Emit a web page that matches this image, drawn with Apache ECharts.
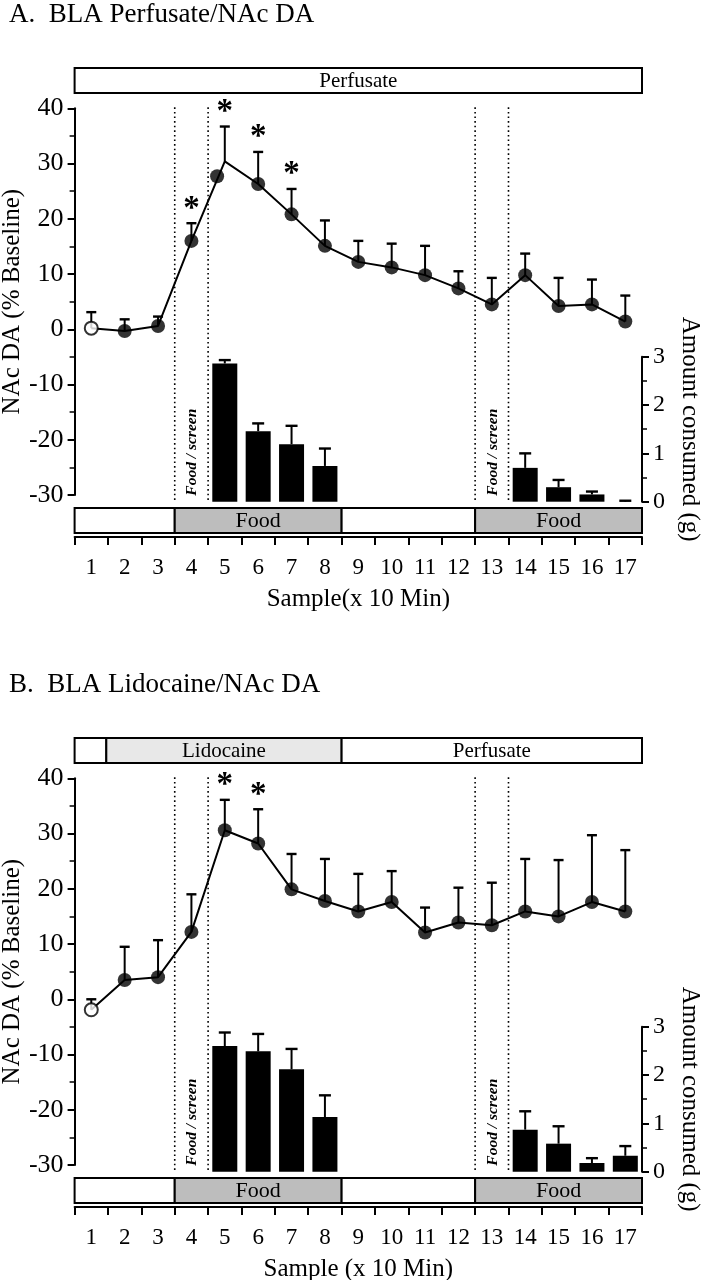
<!DOCTYPE html>
<html><head><meta charset="utf-8">
<script src="https://cdn.jsdelivr.net/npm/echarts@6.0.0/dist/echarts.min.js"></script>
<style>html,body{margin:0;padding:0;background:#fff}#c{width:701px;height:1280px}</style>
</head><body><div id="c"></div>
<script>
// ---------- data ----------
const samples = [1,2,3,4,5,6,7,8,9,10,11,12,13,14,15,16,17];
const xTickLabels = ['1','2','3','4','5','6','7','8','9','10','11','12','13','14','15','16','17'];
const daAxisMin = -30, daAxisMax = 40, daAxisStep = 10;
const foodAxisMin = 0, foodAxisMax = 3, foodAxisStep = 1;

// Panel A
const titleA = 'A.  BLA Perfusate/NAc DA';
const xNameA = 'Sample(x 10 Min)';
const daMeanA = [0.2, -0.3, 0.6, 16.0, 30.4, 26.3, 20.8, 15.1, 12.2, 11.2, 9.8, 7.4, 4.5, 9.8, 4.2, 4.5, 1.4];
const daSemA  = [2.9, 2.1, 1.7, 3.2, 6.3, 5.8, 4.6, 4.6, 3.8, 4.3, 5.3, 3.1, 4.8, 3.9, 5.1, 4.5, 4.7];
const markerPosA = [1, 2, 3, 4, 4.77, 6, 7, 8, 9, 10, 11, 12, 13, 14, 15, 16, 17];
const markerValA = [0.2, -0.3, 0.6, 16.0, 27.7, 26.3, 20.8, 15.1, 12.2, 11.2, 9.8, 7.4, 4.5, 9.8, 4.2, 4.5, 1.4];
const sigA = [4, 5, 6, 7];
const foodSamples = [5, 6, 7, 8, 14, 15, 16, 17];
const foodA    = [2.86, 1.46, 1.19, 0.74, 0.70, 0.30, 0.15, 0.00];
const foodSemA = [0.07, 0.16, 0.38, 0.36, 0.30, 0.15, 0.06, 0.02];
const treatmentA = [[0.5, 17.5, 'Perfusate']];

// Panel B
const titleB = 'B.  BLA Lidocaine/NAc DA';
const xNameB = 'Sample (x 10 Min)';
const daMeanB = [-1.9, 3.5, 4.0, 12.2, 30.6, 28.2, 19.9, 17.8, 15.9, 17.6, 12.1, 13.9, 13.4, 15.9, 15.0, 17.6, 15.9];
const daSemB  = [1.9, 6.0, 6.7, 6.8, 5.5, 6.2, 6.4, 7.6, 6.8, 5.6, 4.5, 6.3, 7.7, 9.5, 10.2, 12.1, 11.1];
const markerPosB = [1,2,3,4,5,6,7,8,9,10,11,12,13,14,15,16,17];
const markerValB = [-1.9, 3.5, 4.0, 12.2, 30.6, 28.2, 19.9, 17.8, 15.9, 17.6, 12.1, 13.9, 13.4, 15.9, 15.0, 17.6, 15.9];
const sigB = [5, 6];
const foodB    = [2.60, 2.49, 2.12, 1.13, 0.87, 0.58, 0.18, 0.33];
const foodSemB = [0.28, 0.36, 0.42, 0.45, 0.38, 0.36, 0.10, 0.20];
const treatmentB = [[0.5, 1.45, ''], [1.45, 8.5, 'Lidocaine'], [8.5, 17.5, 'Perfusate']];

// shared
const foodPeriods = [[0.5, 3.5, ''], [3.5, 8.5, 'Food'], [8.5, 12.5, ''], [12.5, 17.5, 'Food']];
const screenChanges = [3.5, 4.5, 12.5, 13.5];
const screenLabelAt = [4, 13];
const screenLabel = 'Food / screen';
const openMarkerIndex = 0;
const yNameDA = 'NAc DA (% Baseline)';
const yNameFood = 'Amount consumed (g)';

// ---------- chart ----------
const FONT = '"Liberation Serif", "Times New Roman", serif';
const GL = 74.6, GR = 701 - 642;
const fills = {'Food': '#bdbdbd', 'Lidocaine': '#e8e8e8', '': '#ffffff', 'Perfusate': '#ffffff'};

const option = {
  animation: false, backgroundColor: '#ffffff',
  title: [], grid: [], xAxis: [], yAxis: [], series: []
};

function hiddenX(gi) {
  return {type: 'value', gridIndex: gi, min: 0.5, max: 17.5, show: false};
}
function hiddenY(gi, mn, mx) {
  return {type: 'value', gridIndex: gi, min: mn, max: mx, show: false};
}

function boxSeries(xi, yi, boxes, fontSize) {
  return {
    type: 'custom', xAxisIndex: xi, yAxisIndex: yi, clip: false, z: 3,
    data: boxes.map(b => [b[0], b[1]]),
    renderItem: function (params, api) {
      const b = boxes[params.dataIndex];
      const p0 = api.coord([api.value(0), 1]);
      const p1 = api.coord([api.value(1), 0]);
      return {type: 'group', children: [
        {type: 'rect', shape: {x: p0[0], y: p0[1], width: p1[0] - p0[0], height: p1[1] - p0[1]},
         style: {fill: fills[b[2]], stroke: '#000', lineWidth: 2}},
        {type: 'text', x: (p0[0] + p1[0]) / 2, y: (p0[1] + p1[1]) / 2 + 1,
         style: {text: b[2], align: 'center', verticalAlign: 'middle', fill: '#000',
                 font: fontSize + 'px ' + FONT}}
      ]};
    }
  };
}

function errSeries(xi, yi, xs, means, sems, cap) {
  return {
    type: 'custom', xAxisIndex: xi, yAxisIndex: yi, clip: false, z: 4,
    data: xs.map((x, i) => [x, means[i], means[i] + sems[i]]),
    renderItem: function (params, api) {
      const pb = api.coord([api.value(0), api.value(1)]);
      const pt = api.coord([api.value(0), api.value(2)]);
      return {type: 'group', children: [
        {type: 'line', shape: {x1: pb[0], y1: pb[1], x2: pt[0], y2: pt[1]}, style: {stroke: '#000', lineWidth: 2}},
        {type: 'line', shape: {x1: pt[0] - cap, y1: pt[1], x2: pt[0] + cap, y2: pt[1]}, style: {stroke: '#000', lineWidth: 2.4}}
      ]};
    }
  };
}

function addPanel(p, off) {
  const g = option.grid.length, xi = option.xAxis.length, yi = option.yAxis.length;
  option.title.push({text: p.title, left: 4, top: off - 4,
    textStyle: {fontFamily: FONT, fontSize: 27, fontWeight: 'normal', color: '#000'}});
  option.grid.push({left: GL, right: GR, top: 68 + off, height: 25, outerBoundsMode: 'none'});
  option.grid.push({left: GL, right: GR, top: 108.3 + off, height: 386.7, outerBoundsMode: 'none'});
  option.grid.push({left: GL, right: GR, top: 356.7 + off, height: 145, outerBoundsMode: 'none'});
  option.grid.push({left: GL, right: GR, top: 508 + off, height: 25, outerBoundsMode: 'none'});

  option.xAxis.push(hiddenX(g), hiddenX(g + 1), hiddenX(g + 2), hiddenX(g + 3));
  option.xAxis.push({
    type: 'category', gridIndex: g + 3, data: xTickLabels, position: 'bottom', offset: 4,
    boundaryGap: true,
    axisLine: {show: true, lineStyle: {color: '#000', width: 2}},
    axisTick: {show: true, length: 8, alignWithLabel: false, interval: 0, lineStyle: {color: '#000', width: 2}},
    axisLabel: {interval: 0, color: '#000', fontFamily: FONT, fontSize: 23, margin: 19},
    splitLine: {show: false},
    name: p.xName, nameLocation: 'middle', nameGap: 50, nameMoveOverlap: false,
    nameTextStyle: {fontFamily: FONT, fontSize: 25, color: '#000'}
  });

  option.yAxis.push(hiddenY(g, 0, 1));
  option.yAxis.push({
    type: 'value', gridIndex: g + 1, position: 'left', min: daAxisMin, max: daAxisMax, interval: daAxisStep,
    axisLine: {show: true, lineStyle: {color: '#000', width: 2}},
    axisTick: {show: true, length: 7, lineStyle: {color: '#000', width: 2}},
    minorTick: {show: true, splitNumber: 2, length: 5, lineStyle: {color: '#000', width: 1.5}},
    splitLine: {show: false}, minorSplitLine: {show: false},
    axisLabel: {color: '#000', fontFamily: FONT, fontSize: 26, margin: 11},
    name: yNameDA, nameLocation: 'middle', nameGap: 50, nameMoveOverlap: false,
    nameTextStyle: {fontFamily: FONT, fontSize: 25, color: '#000'}
  });
  option.yAxis.push({
    type: 'value', gridIndex: g + 2, position: 'right', min: foodAxisMin, max: foodAxisMax, interval: foodAxisStep,
    axisLine: {show: true, lineStyle: {color: '#000', width: 2}},
    axisTick: {show: true, length: 7, lineStyle: {color: '#000', width: 2}},
    minorTick: {show: true, splitNumber: 2, length: 5, lineStyle: {color: '#000', width: 1.5}},
    splitLine: {show: false}, minorSplitLine: {show: false},
    axisLabel: {color: '#000', fontFamily: FONT, fontSize: 24, margin: 11},
    name: yNameFood, nameLocation: 'middle', nameGap: 35, nameRotate: -90, nameMoveOverlap: false,
    nameTextStyle: {fontFamily: FONT, fontSize: 25, color: '#000'}
  });
  option.yAxis.push(hiddenY(g + 3, 0, 1));

  // treatment boxes (top) and food boxes (bottom)
  option.series.push(boxSeries(xi, yi, p.treatment, 21));
  option.series.push(boxSeries(xi + 3, yi + 3, foodPeriods, 22));

  // dotted lines
  option.series.push({
    type: 'custom', xAxisIndex: xi + 1, yAxisIndex: yi + 1, clip: false, z: 1,
    data: screenChanges.map(s => [s, daAxisMax]),
    renderItem: function (params, api) {
      const t = api.coord([api.value(0), daAxisMax]);
      const b = api.coord([api.value(0), daAxisMin]);
      return {type: 'line', shape: {x1: t[0], y1: t[1] - 1, x2: b[0], y2: b[1] + 8},
              style: {stroke: '#000', lineWidth: 1.6, lineDash: [1.6, 3]}};
    }
  });

  // food / screen labels
  option.series.push({
    type: 'custom', xAxisIndex: xi + 2, yAxisIndex: yi + 2, clip: false, z: 5,
    data: screenLabelAt.map(s => [s, foodAxisMin]),
    renderItem: function (params, api) {
      const c = api.coord([api.value(0), foodAxisMin]);
      return {type: 'text', x: c[0] + 1, y: c[1] - 6, rotation: Math.PI / 2,
              style: {text: screenLabel, align: 'left', verticalAlign: 'middle', fill: '#000',
                      font: 'italic bold 15.5px ' + FONT}};
    }
  });

  // food bars
  option.series.push({
    type: 'bar', xAxisIndex: xi + 2, yAxisIndex: yi + 2, barWidth: 25, z: 3,
    itemStyle: {color: '#000'},
    data: foodSamples.map((s, i) => [s, p.food[i]])
  });
  option.series.push(errSeries(xi + 2, yi + 2, foodSamples, p.food, p.foodSem, 6));

  // DA line
  option.series.push({
    type: 'line', xAxisIndex: xi + 1, yAxisIndex: yi + 1, showSymbol: false, z: 4,
    lineStyle: {color: '#000', width: 2},
    data: samples.map((s, i) => [s, p.mean[i]])
  });
  option.series.push(errSeries(xi + 1, yi + 1, samples, p.mean, p.sem, 5));
  option.series.push({
    type: 'scatter', xAxisIndex: xi + 1, yAxisIndex: yi + 1, symbol: 'circle', symbolSize: 14, z: 6,
    itemStyle: {color: '#000'},
    data: p.markerPos.map((x, i) => i === openMarkerIndex
      ? {value: [x, p.markerVal[i]], itemStyle: {color: '#fff', borderColor: '#000', borderWidth: 2}, symbolSize: 13}
      : {value: [x, p.markerVal[i]]})
  });
  // significance stars
  option.series.push({
    type: 'custom', xAxisIndex: xi + 1, yAxisIndex: yi + 1, clip: false, z: 6,
    data: p.sig.map(s => [s, p.mean[s - 1] + p.sem[s - 1]]),
    renderItem: function (params, api) {
      const c = api.coord([api.value(0), api.value(1)]);
      return {type: 'text', x: c[0], y: c[1] - 14,
              style: {text: '*', align: 'center', verticalAlign: 'middle', fill: '#000',
                      font: 'bold 33px ' + FONT}};
    }
  });
}

addPanel({title: titleA, xName: xNameA, mean: daMeanA, sem: daSemA, markerPos: markerPosA, markerVal: markerValA,
          sig: sigA, food: foodA, foodSem: foodSemA, treatment: treatmentA}, 0);
addPanel({title: titleB, xName: xNameB, mean: daMeanB, sem: daSemB, markerPos: markerPosB, markerVal: markerValB,
          sig: sigB, food: foodB, foodSem: foodSemB, treatment: treatmentB}, 670);

const chart = echarts.init(document.getElementById('c'), null, {renderer: 'canvas'});
chart.setOption(option);
</script>
</body></html>
